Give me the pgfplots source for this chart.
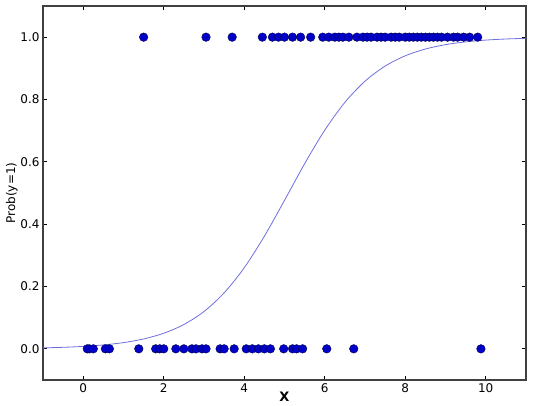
\documentclass[border=0pt]{standalone}
\usepackage{pgfplots}
\pgfplotsset{compat=1.18}
\usepackage{fontspec}
\setmainfont{DejaVu Sans}
\definecolor{dotblue}{RGB}{0,0,200}
\definecolor{curveblue}{RGB}{110,110,225}
\begin{document}
\begin{tikzpicture}[x=1pt,y=1pt]
\useasboundingbox (-43,-26) rectangle (493,380);
\begin{axis}[
  scale only axis, width=483pt, height=374pt,
  xmin=-1, xmax=11, ymin=-0.1, ymax=1.1,
  xtick={0,2,...,10}, ytick={0,0.2,...,1.0},
  yticklabel style={/pgf/number format/.cd, fixed, fixed zerofill, precision=1},
  /pgf/number format/assume math mode=true,
  tick align=inside, tick pos=both, major tick length=4pt,
  tick style={black, line width=0.8pt},
  axis line style={line width=1.3pt, black!75},
  ticklabel style={font=\fontsize{12}{14}\selectfont},
  xlabel={\bfseries X}, xlabel style={font=\fontsize{13}{15}\selectfont, yshift=7pt},
  ylabel={Prob(y=1)}, ylabel style={font=\fontsize{12}{14}\selectfont, yshift=-4pt},
  clip=true,
]
\addplot[curveblue, line width=0.8pt, smooth] coordinates {
(-1,0.00303) (-0.5,0.00487) (0,0.00781) (0.5,0.0125) (1,0.01994) (1.5,0.03168)
(2,0.04997) (2.5,0.078) (3,0.1197) (3.5,0.1795) (4,0.2602) (4.5,0.3613)
(5,0.4763) (5.5,0.5939) (6,0.7016) (6.5,0.7908) (7,0.8587) (7.5,0.9072)
(8,0.9402) (8.5,0.9619) (9,0.976) (9.5,0.9849) (10,0.9906) (10.5,0.9941) (11,0.9963)
};
\addplot[only marks, mark=*, mark size=4.3pt, mark options={fill=dotblue, draw=black!70!blue, line width=0.4pt}] coordinates {
(1.5,1) (3.05,1) (3.7,1) (4.45,1) (4.7,1) (4.85,1) (5.0,1) (5.2,1) (5.4,1)
(5.65,1) (5.95,1) (6.1,1) (6.25,1) (6.35,1) (6.45,1) (6.6,1) (6.8,1) (6.95,1)
(7.05,1) (7.15,1) (7.3,1) (7.4,1) (7.5,1) (7.65,1) (7.75,1) (7.85,1) (8.0,1)
(8.1,1) (8.2,1) (8.3,1) (8.4,1) (8.5,1) (8.6,1) (8.7,1) (8.8,1) (8.9,1)
(9.05,1) (9.2,1) (9.3,1) (9.45,1) (9.6,1) (9.8,1)
(0.1,0) (0.15,0) (0.25,0) (0.55,0) (0.65,0) (1.38,0) (1.8,0) (1.9,0) (2.0,0)
(2.3,0) (2.5,0) (2.7,0) (2.8,0) (2.95,0) (3.05,0) (3.4,0) (3.5,0) (3.75,0)
(4.05,0) (4.2,0) (4.35,0) (4.5,0) (4.65,0) (4.98,0) (5.2,0) (5.3,0) (5.45,0)
(6.05,0) (6.72,0) (9.88,0)
};
\end{axis}
\end{tikzpicture}
\end{document}
